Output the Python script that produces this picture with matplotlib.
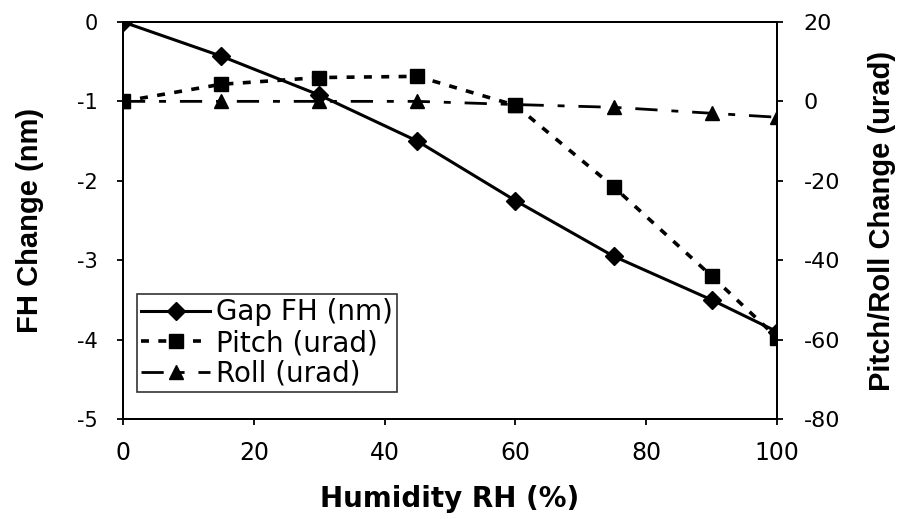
import matplotlib
matplotlib.use("Agg")
import matplotlib.pyplot as plt

humidity = [0, 15, 30, 45, 60, 75, 90, 100]
gap_fh = [0.0, -0.43, -0.92, -1.5, -2.25, -2.95, -3.5, -3.9]
pitch = [0.0, 4.3, 6.0, 6.3, -1.0, -21.5, -44.0, -59.5]
roll = [0.0, 0.0, 0.0, 0.0, -0.8, -1.5, -3.0, -4.0]

left_ticks = [0, -1, -2, -3, -4, -5]
right_ticks = [20, 0, -20, -40, -60, -80]
x_ticks = [0, 20, 40, 60, 80, 100]

plt.rcParams['font.family'] = ['DejaVu Sans']
plt.rcParams['axes.unicode_minus'] = False

fig = plt.figure(figsize=(9.15, 5.19), dpi=100)
ax = fig.add_axes([0.1344, 0.1927, 0.7148, 0.765])
ax2 = ax.twinx()

ln1, = ax.plot(humidity, gap_fh, color='black', lw=2.2, marker='D', ms=9,
               label='Gap FH (nm)')
ln2, = ax2.plot(humidity, pitch, color='black', lw=2.6, marker='s', ms=10,
                linestyle=(0, (2.2, 2.6)), label='Pitch (urad)')
ln3, = ax2.plot(humidity, roll, color='black', lw=2.0, marker='^', ms=10,
                linestyle=(0, (8, 5, 2.5, 5)), label='Roll (urad)')

ax.set_xlim(0, 100)
ax.set_ylim(-5, 0)
ax2.set_ylim(-80, 20)
ax.set_xticks(x_ticks)
ax.set_yticks(left_ticks)
ax2.set_yticks(right_ticks)
ax.tick_params(axis='y', labelsize=15, width=1.3, length=4, pad=14)
ax.tick_params(axis='x', labelsize=17, width=1.3, length=4, pad=12)
ax2.tick_params(axis='y', labelsize=16, width=1.3, length=4, pad=15)

for a in (ax, ax2):
    for s in a.spines.values():
        s.set_linewidth(1.4)

ax.set_xlabel('Humidity RH (%)', fontsize=20, fontweight='bold', labelpad=14)
ax.set_ylabel('FH Change (nm)', fontsize=21, fontweight='bold', labelpad=24,
              family='Liberation Sans')
ax2.set_ylabel('Pitch/Roll Change (urad)', fontsize=21, fontweight='bold',
               labelpad=20, family='Liberation Sans')

leg = ax.legend(handles=[ln1, ln2, ln3], loc='lower left',
                bbox_to_anchor=(0.021, 0.068), fontsize=20, frameon=True,
                fancybox=False, edgecolor='black', handlelength=2.5,
                handletextpad=0.2, borderpad=0.15, labelspacing=0.1,
                borderaxespad=0)
leg.get_frame().set_linewidth(1.2)

fig.savefig('out.png', dpi=100)
